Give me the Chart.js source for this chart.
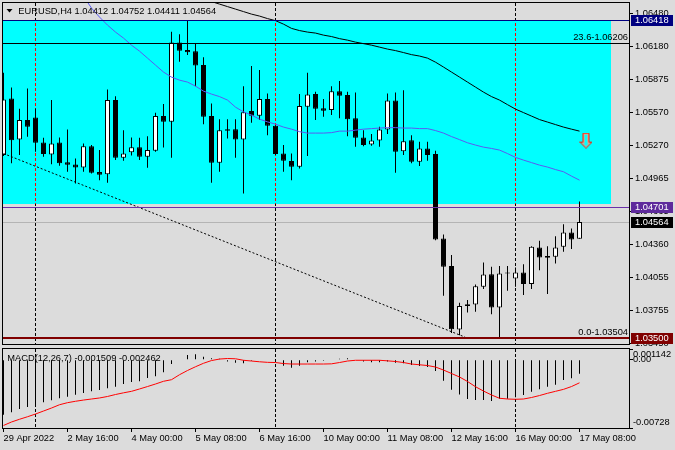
<!DOCTYPE html>
<html>
<head>
<meta charset="utf-8">
<script src="https://cdn.jsdelivr.net/npm/chart.js@4.4.0/dist/chart.umd.min.js"></script>
<style>
html,body{margin:0;padding:0;background:#dcdcdc;}
#wrap{position:relative;width:675px;height:450px;overflow:hidden;background:#dcdcdc;}
#c1{position:absolute;left:0;top:0;}
#c2{position:absolute;left:0;top:346px;}
</style>
</head>
<body>
<div id="wrap">
<canvas id="c1" width="675" height="346"></canvas>
<canvas id="c2" width="675" height="104"></canvas>
</div>
<script>
// ---------- DATA ----------
const symbolTitle = 'EURUSD,H4';
const lastBarText = ['1.04412', '1.04752', '1.04411', '1.04564'];

const opens = [
1.05179,1.05699,1.05323,1.05500,1.05525,1.05295,1.05185,1.05295,1.05114,1.05093,
1.05066,1.05261,1.05023,1.05002,1.05684,1.05154,1.05204,1.05252,1.05163,1.05218,
1.05537,1.05484,1.06213,1.06143,1.06133,1.06005,1.05537,1.05108,1.05417,1.05417,
1.05323,1.05583,1.05540,1.05693,1.05448,1.05194,1.05124,1.05071,1.05622,1.05739,
1.05610,1.05592,1.05766,1.05730,1.05516,1.05341,1.05277,1.05314,1.05415,1.05681,
1.05215,1.05316,1.05117,1.05240,1.05188,1.04414,1.04160,1.03579,1.03793,1.03808,
1.03970,1.04086,1.03781,1.04093,1.04047,1.04102,1.03995,1.04331,1.04252,1.04245,
1.04337,1.04469,1.04412];
const highs = [
1.05934,1.05800,1.05604,1.05791,1.05607,1.05338,1.05684,1.05341,1.05415,1.05148,
1.05286,1.05271,1.05225,1.05782,1.05720,1.05408,1.05341,1.05338,1.05353,1.05567,
1.05647,1.06311,1.06289,1.06412,1.06204,1.06078,1.05653,1.05509,1.05509,1.05509,
1.05812,1.05996,1.05959,1.05745,1.05454,1.05271,1.05194,1.05739,1.05934,1.05760,
1.05693,1.05812,1.05858,1.05760,1.05754,1.05408,1.05372,1.05439,1.05745,1.05754,
1.05775,1.05362,1.05301,1.05301,1.05218,1.04451,1.04261,1.03823,1.03848,1.03992,
1.04194,1.04153,1.04160,1.04160,1.04148,1.04178,1.04343,1.04392,1.04343,1.04435,
1.04545,1.04506,1.04752];
const lows = [
1.05170,1.05103,1.05179,1.05347,1.05209,1.05163,1.05096,1.05081,1.05025,1.04919,
1.05025,1.05011,1.04949,1.04924,1.05133,1.05126,1.05176,1.05133,1.05062,1.05209,
1.05249,1.05154,1.06035,1.06097,1.05812,1.05461,1.04924,1.05025,1.05332,1.05154,
1.04827,1.05475,1.05500,1.05362,1.05179,1.05025,1.04949,1.05057,1.05170,1.05500,
1.05530,1.05546,1.05516,1.05353,1.05255,1.05261,1.05264,1.05255,1.05372,1.05016,
1.05179,1.05103,1.05078,1.05126,1.04398,1.03887,1.03547,1.03526,1.03735,1.03740,
1.03949,1.03719,1.03504,1.03933,1.03970,1.03894,1.03949,1.04123,1.03903,1.04185,
1.04291,1.04316,1.04411];
const closes = [
1.05690,1.05316,1.05500,1.05439,1.05292,1.05188,1.05286,1.05103,1.05090,1.05066,
1.05261,1.05016,1.04998,1.05684,1.05154,1.05194,1.05252,1.05163,1.05225,1.05537,
1.05484,1.06213,1.06136,1.06124,1.06002,1.05530,1.05108,1.05408,1.05402,1.05323,
1.05573,1.05540,1.05693,1.05448,1.05188,1.05126,1.05071,1.05629,1.05736,1.05604,
1.05585,1.05766,1.05723,1.05509,1.05338,1.05271,1.05314,1.05415,1.05681,1.05209,
1.05307,1.05117,1.05240,1.05179,1.04405,1.04153,1.03581,1.03793,1.03811,1.03976,
1.04083,1.03781,1.04093,1.04093,1.04102,1.03995,1.04337,1.04240,1.04236,1.04331,
1.04469,1.04405,1.04564];

const maBlueStart = 10;
const maBlue = [
1.06638,1.06528,1.06446,1.06372,1.06308,1.06253,1.06188,1.06133,1.06069,1.06005,
1.05941,1.05895,1.05867,1.05849,1.05812,1.05766,1.05739,1.05716,1.05684,1.05619,
1.05576,1.05546,1.05509,1.05484,1.05463,1.05436,1.05417,1.05394,1.05381,1.05381,
1.05381,1.05385,1.05399,1.05399,1.05408,1.05417,1.05422,1.05427,1.05431,1.05431,
1.05427,1.05427,1.05422,1.05422,1.05404,1.05381,1.05349,1.05321,1.05292,1.05271,
1.05252,1.05240,1.05225,1.05193,1.05158,1.05133,1.05110,1.05087,1.05069,1.05046,
1.05026,1.04986,1.04949];
const maBlackStart = 25;
const maBlack = [
1.06611,1.06588,1.06565,1.06542,1.06519,
1.06496,1.06473,1.06455,1.06432,1.06413,1.06381,1.06342,1.06322,1.06308,1.06299,
1.06280,1.06267,1.06248,1.06234,1.06216,1.06202,1.06188,1.06170,1.06152,1.06138,
1.06120,1.06101,1.06088,1.06069,1.06032,1.05987,1.05941,1.05895,1.05849,1.05803,
1.05757,1.05716,1.05684,1.05642,1.05601,1.05569,1.05537,1.05505,1.05482,1.05459,
1.05436,1.05417,1.05399];

const macdMain = [
-0.00586,-0.00561,-0.00526,-0.00504,-0.00480,-0.00454,-0.00433,-0.00411,-0.00394,-0.00373,
-0.00355,-0.00337,-0.00323,-0.00305,-0.00288,-0.00259,-0.00238,-0.00230,-0.00195,-0.00177,
-0.00134,-0.00046,-0.00005,0.00050,0.00058,0.00032,0.00015,0.00010,-0.00020,-0.00032,
-0.00039,-0.00010,-0.00005,-0.00005,-0.00020,-0.00064,-0.00085,-0.00064,-0.00028,-0.00020,
-0.00010,-0.00005,0.00010,0.00015,-0.00005,-0.00020,-0.00028,-0.00028,-0.00020,-0.00032,
-0.00039,-0.00057,-0.00067,-0.00078,-0.00120,-0.00224,-0.00320,-0.00372,-0.00420,-0.00430,
-0.00430,-0.00440,-0.00417,-0.00415,-0.00400,-0.00376,-0.00341,-0.00314,-0.00288,-0.00266,
-0.00216,-0.00198,-0.001509];
const macdSignal = [
-0.00701,-0.00664,-0.00635,-0.00608,-0.00579,-0.00547,-0.00515,-0.00480,-0.00458,-0.00443,
-0.00430,-0.00419,-0.00408,-0.00392,-0.00371,-0.00353,-0.00337,-0.00312,-0.00286,-0.00259,
-0.00230,-0.00213,-0.00160,-0.00115,-0.00075,-0.00038,-0.00009,0.00007,0.00013,0.00010,
-0.00006,-0.00014,-0.00022,-0.00028,-0.00030,-0.00041,-0.00046,-0.00046,-0.00046,-0.00046,
-0.00046,-0.00044,-0.00030,-0.00014,-0.00006,-0.00006,-0.00006,-0.00006,-0.00012,-0.00019,
-0.00030,-0.00046,-0.00054,-0.00062,-0.00078,-0.00110,-0.00147,-0.00184,-0.00232,-0.00288,
-0.00334,-0.00376,-0.00411,-0.00419,-0.00422,-0.00419,-0.00403,-0.00382,-0.00358,-0.00337,
-0.00316,-0.00286,-0.002462];
const macdTitle = 'MACD(12,26,7) -0.001509 -0.002462';

const timeLabels = ['29 Apr 2022','2 May 16:00','4 May 00:00','5 May 08:00','6 May 16:00',
                    '10 May 00:00','11 May 08:00','12 May 16:00','16 May 00:00','17 May 08:00'];
const timeLabelStep = 8;
const separators = [4, 34, 64];

const priceTicks = [1.06480,1.06180,1.05875,1.05570,1.05270,1.04965,1.04665,1.04360,1.04055,1.03755,1.03450];
const priceMin = 1.03445, priceMax = 1.06575;
const macdTicks = [0.001142, 0, -0.00728];
const macdTickText = ['0.001142', '0.00', '-0.00728'];
const macdMin = -0.00728, macdMax = 0.001142;

const resistanceLevel = 1.06418;
const breakLevel = 1.04701;
const bidPrice = 1.04564;
const supportLevel = 1.03500;
const fib236 = 1.06206;
const fib0 = 1.03504;
const zoneTop = 1.06418, zoneBottom = 1.04726, zoneEndIndex = 75.9;
const trendLine = [{x: 0, y: 1.05193}, {x: 57.7, y: 1.03508}];
const arrowPoint = [{x: 72.81, y: 1.05312}];

// ---------- SETUP ----------
const FONT = 'Liberation Sans';
const FS = 9.3;
Chart.defaults.font.family = FONT;
Chart.defaults.font.size = FS;
Chart.defaults.color = '#000';
const xMin = -0.0625, xMax = 78.1875;

const idx = closes.map((_, i) => i);
const bodyData = idx.map(i => ({x: i, y: [opens[i], closes[i]]}));
const wickData = idx.map(i => ({x: i, y: [lows[i], highs[i]]}));
const bodyColors = idx.map(i => closes[i] > opens[i] ? '#ffffff' : '#000000');

function makeArrow() {
  const c = document.createElement('canvas');
  c.width = 13; c.height = 16;
  const g = c.getContext('2d');
  g.lineWidth = 1;
  g.strokeStyle = '#ff1a00';
  g.beginPath();
  g.moveTo(3.5, 0.5); g.lineTo(9.5, 0.5); g.lineTo(9.5, 9.5); g.lineTo(12.5, 9.5);
  g.lineTo(6.5, 15.5); g.lineTo(0.5, 9.5); g.lineTo(3.5, 9.5); g.closePath();
  g.stroke();
  g.strokeStyle = '#ff9a80';
  g.beginPath();
  g.moveTo(4.5, 1.5); g.lineTo(8.5, 1.5); g.lineTo(8.5, 10.5); g.lineTo(10.2, 10.5);
  g.lineTo(6.5, 14.2); g.lineTo(2.8, 10.5); g.lineTo(4.5, 10.5); g.closePath();
  g.stroke();
  return c;
}

function hline(ctx, a, ys, price, color, lw) {
  const y = Math.round(ys.getPixelForValue(price)) + (lw % 2 ? 0.5 : 0);
  ctx.save();
  ctx.strokeStyle = color; ctx.lineWidth = lw; ctx.setLineDash([]);
  ctx.beginPath(); ctx.moveTo(a.left, y); ctx.lineTo(a.right, y); ctx.stroke();
  ctx.restore();
  return y;
}

function drawSeparators(ctx, a, xs, zoneRect) {
  ctx.save();
  ctx.lineWidth = 1;
  ctx.setLineDash([3, 2]);
  separators.forEach(s => {
    const px = Math.floor(xs.getPixelForValue(s)) + 0.5;
    ctx.strokeStyle = '#000';
    ctx.beginPath(); ctx.moveTo(px, a.top); ctx.lineTo(px, a.bottom); ctx.stroke();
    if (zoneRect) {
      ctx.save();
      ctx.beginPath(); ctx.rect(zoneRect[0], zoneRect[1], zoneRect[2], zoneRect[3]); ctx.clip();
      ctx.strokeStyle = '#ff0000';
      ctx.beginPath(); ctx.moveTo(px, a.top); ctx.lineTo(px, a.bottom); ctx.stroke();
      ctx.restore();
    }
  });
  ctx.restore();
}

function frame(ctx, a) {
  ctx.save();
  ctx.strokeStyle = '#000'; ctx.lineWidth = 1; ctx.setLineDash([]);
  ctx.strokeRect(a.left - 0.5, a.top - 0.5, a.right - a.left + 1, a.bottom - a.top + 1);
  ctx.restore();
}

function noPad(s) {
  s.paddingTop = 0; s.paddingBottom = 0; s.paddingLeft = 0; s.paddingRight = 0;
}

const mainDecor = {
  id: 'mainDecor',
  beforeDatasetsDraw(chart) {
    const {ctx, chartArea: a, scales} = chart;
    const xs = scales.x, ys = scales.y;
    ctx.save();
    ctx.beginPath(); ctx.rect(a.left, a.top, a.right - a.left, a.bottom - a.top); ctx.clip();
    const zr = Math.round(xs.getPixelForValue(zoneEndIndex));
    const zt = Math.round(ys.getPixelForValue(zoneTop));
    const zb = Math.round(ys.getPixelForValue(zoneBottom));
    ctx.fillStyle = '#00ffff';
    ctx.fillRect(a.left, zt, zr - a.left, zb - zt);
    drawSeparators(ctx, a, xs, [a.left, zt, zr - a.left, zb - zt]);
    hline(ctx, a, ys, bidPrice, '#b4b4b4', 1);
    ctx.restore();
  },
  afterDatasetsDraw(chart) {
    const {ctx, chartArea: a, scales} = chart;
    const ys = scales.y;
    ctx.save();
    ctx.beginPath(); ctx.rect(a.left, a.top, a.right - a.left, a.bottom - a.top); ctx.clip();
    hline(ctx, a, ys, resistanceLevel, '#000080', 1);
    const yf = hline(ctx, a, ys, fib236, '#000000', 1);
    hline(ctx, a, ys, breakLevel, '#6a2fa8', 1);
    const y0 = hline(ctx, a, ys, fib0, '#000000', 1);
    hline(ctx, a, ys, supportLevel, '#800000', 2);
    ctx.font = FS + 'px "' + FONT + '"';
    ctx.fillStyle = '#000';
    ctx.textAlign = 'right'; ctx.textBaseline = 'alphabetic';
    ctx.fillText('23.6-' + fib236.toFixed(5), a.right - 1, Math.floor(yf) - 3);
    ctx.fillText('0.0-' + fib0.toFixed(5), a.right - 1, Math.floor(y0) - 3);
    ctx.restore();
  },
  afterDraw(chart) {
    const {ctx, chartArea: a, scales} = chart;
    const ys = scales.y;
    frame(ctx, a);
    ctx.save();
    ctx.font = FS + 'px "' + FONT + '"';
    ctx.textBaseline = 'middle'; ctx.textAlign = 'left';
    [[resistanceLevel, '#000080'], [breakLevel, '#5e2a9c'], [bidPrice, '#000000'], [supportLevel, '#800000']]
      .forEach(([p, c]) => {
        const yc = Math.round(ys.getPixelForValue(p));
        ctx.fillStyle = c;
        ctx.fillRect(a.right + 2, yc - 5, 42, 11);
        ctx.fillStyle = '#ffffff';
        ctx.fillText(p.toFixed(5), a.right + 6, yc + 0.5);
      });
    // header
    ctx.fillStyle = '#000';
    ctx.beginPath(); ctx.moveTo(6.5, 9); ctx.lineTo(12.5, 9); ctx.lineTo(9.5, 12.5); ctx.closePath(); ctx.fill();
    ctx.textBaseline = 'alphabetic';
    ctx.fillText(symbolTitle + ' ' + lastBarText.join(' '), 18.3, 14);
    ctx.restore();
  }
};

const macdDecor = {
  id: 'macdDecor',
  beforeDatasetsDraw(chart) {
    const {ctx, chartArea: a, scales} = chart;
    drawSeparators(ctx, a, scales.x, null);
  },
  afterDraw(chart) {
    const {ctx, chartArea: a} = chart;
    frame(ctx, a);
    ctx.save();
    ctx.font = FS + 'px "' + FONT + '"';
    ctx.fillStyle = '#000'; ctx.textAlign = 'left'; ctx.textBaseline = 'alphabetic';
    ctx.fillText(macdTitle, 7.3, a.top + 12);
    ctx.restore();
  }
};

const xScaleBase = {
  type: 'linear', min: xMin, max: xMax, offset: false,
  grid: {offset: false}
};

new Chart(document.getElementById('c1'), {
  type: 'bar',
  data: {
    datasets: [
      {type: 'line', data: maBlue.map((v, k) => ({x: maBlueStart + k, y: v})), borderColor: '#5a5af2',
       borderWidth: 1, pointRadius: 0, tension: 0, fill: false, order: 0},
      {type: 'line', data: maBlack.map((v, k) => ({x: maBlackStart + k, y: v})), borderColor: '#000000',
       borderWidth: 1, pointRadius: 0, tension: 0, fill: false, order: 0},
      {type: 'line', data: trendLine, borderColor: '#000000', borderWidth: 1, borderDash: [2, 2],
       pointRadius: 0, tension: 0, fill: false, order: 0},
      {type: 'scatter', data: arrowPoint, pointStyle: makeArrow(), pointRadius: 8, order: 0},
      {data: bodyData, backgroundColor: bodyColors, borderColor: '#000', borderWidth: 1,
       borderSkipped: false, barThickness: 5, grouped: false, minBarLength: 1, inflateAmount: 0, order: 1},
      {data: wickData, backgroundColor: '#000', borderWidth: 0, barThickness: 1, grouped: false,
       inflateAmount: 0, order: 2}
    ]
  },
  options: {
    responsive: false, animation: false, events: [],
    layout: {autoPadding: false, padding: {left: 3, top: 3, right: 0, bottom: 2}},
    plugins: {legend: {display: false}, tooltip: {enabled: false}},
    scales: {
      x: Object.assign({}, xScaleBase, {display: false}),
      y: {
        position: 'right', min: priceMin, max: priceMax, beginAtZero: false,
        afterFit(s) { s.width = 46; noPad(s); },
        afterBuildTicks(s) { s.ticks = priceTicks.map(v => ({value: v})); },
        ticks: {autoSkip: false, padding: 2, color: '#000', callback: v => Number(v).toFixed(5)},
        grid: {drawOnChartArea: false, drawTicks: true, tickLength: 4, color: '#000'},
        border: {display: false}
      }
    }
  },
  plugins: [mainDecor]
});

new Chart(document.getElementById('c2'), {
  type: 'bar',
  data: {
    datasets: [
      {type: 'line', data: macdSignal.map((v, i) => ({x: i, y: v})), borderColor: '#ff0000',
       borderWidth: 1, pointRadius: 0, tension: 0, fill: false, order: 0},
      {data: macdMain.map((v, i) => ({x: i, y: v})), backgroundColor: '#000', borderWidth: 0,
       barThickness: 1, inflateAmount: 0, order: 1}
    ]
  },
  options: {
    responsive: false, animation: false, events: [],
    layout: {autoPadding: false, padding: {left: 3, top: 3, right: 0, bottom: 0}},
    plugins: {legend: {display: false}, tooltip: {enabled: false}},
    scales: {
      x: Object.assign({}, xScaleBase, {
        position: 'bottom',
        afterFit(s) { s.height = 22; noPad(s); },
        afterBuildTicks(s) { s.ticks = timeLabels.map((_, k) => ({value: k * timeLabelStep})); },
        ticks: {autoSkip: false, maxRotation: 0, align: 'start', padding: 1, color: '#000',
                callback: v => timeLabels[Math.round(v / timeLabelStep)]},
        grid: {drawOnChartArea: false, drawTicks: true, tickLength: 4, color: '#000', offset: false},
        border: {display: false}
      }),
      y: {
        position: 'right', min: macdMin, max: macdMax, beginAtZero: false,
        afterFit(s) { s.width = 46; noPad(s); },
        afterBuildTicks(s) { s.ticks = macdTicks.map(v => ({value: v})); },
        ticks: {autoSkip: false, padding: 0, color: '#000',
                callback: (v, i) => i === 0 ? ['', macdTickText[0]] :
                                    (i === macdTicks.length - 1 ? [macdTickText[i], ''] : macdTickText[i])},
        grid: {drawOnChartArea: false, drawTicks: true, tickLength: 4, color: '#000'},
        border: {display: false}
      }
    }
  },
  plugins: [macdDecor]
});
</script>
</body>
</html>
